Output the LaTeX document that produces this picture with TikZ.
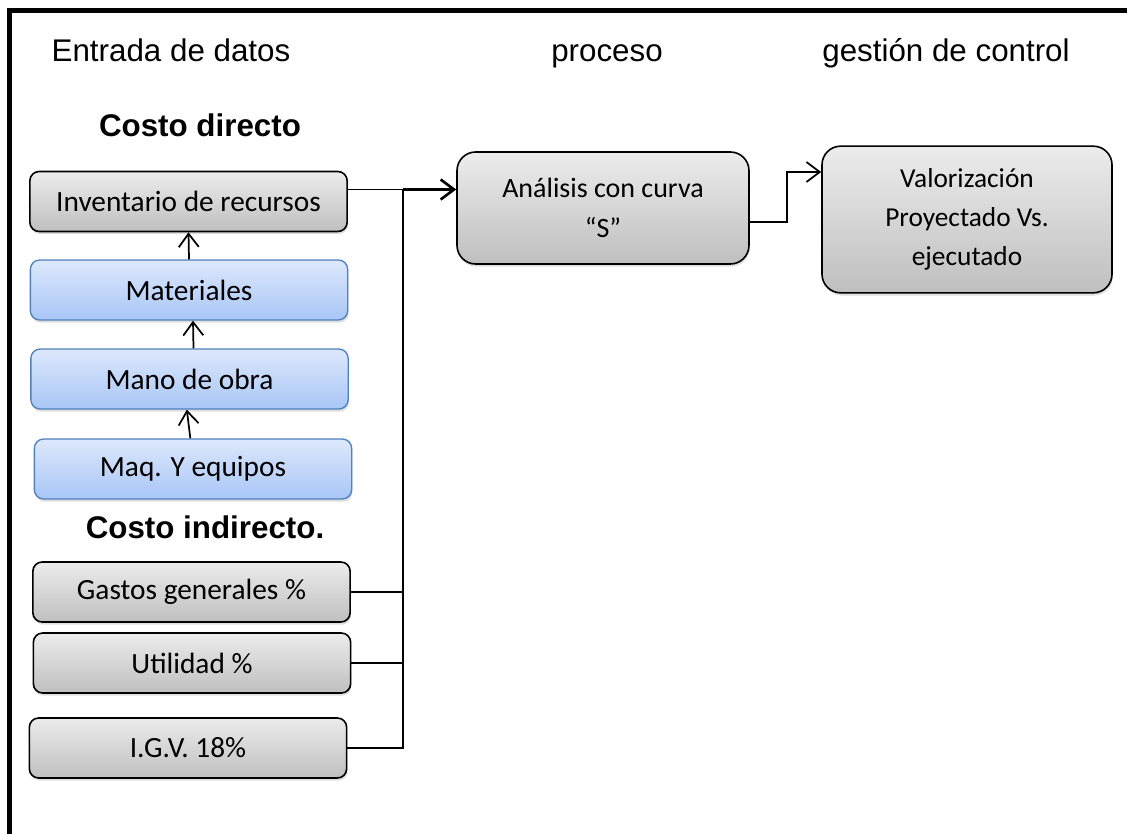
\documentclass[tikz,border=0pt]{standalone}
\usepackage{fontspec}
\setmainfont{Liberation Sans}
\newfontfamily\boxfont{Carlito}
\usetikzlibrary{arrows.meta,shadows}
\definecolor{BoxTop}{HTML}{ECECEC}
\definecolor{BoxBottom}{HTML}{BFBFBF}
\definecolor{BlueTop}{HTML}{DDE8FC}
\definecolor{BlueBottom}{HTML}{A8C6F6}
\definecolor{BlueEdge}{HTML}{4F81BD}
\tikzset{
  costbox/.style={
    rounded corners=7pt, draw=black, line width=1.2pt,
    top color=BoxTop, bottom color=BoxBottom,
    minimum width=238pt, minimum height=45pt, align=center,
    font=\boxfont\fontsize{22}{30}\selectfont,
    drop shadow={shadow xshift=0.6pt, shadow yshift=-2pt, opacity=0.25}
  },
  inputbox/.style={
    costbox, draw=BlueEdge, line width=1pt,
    top color=BlueTop, bottom color=BlueBottom
  },
  stagebox/.style={costbox, rounded corners=14pt, font=\boxfont\fontsize{21}{30}\selectfont},
  heading/.style={anchor=base, font=\fontsize{23.5}{28}\selectfont},
  flow/.style={-{Straight Barb[length=10pt,width=15pt]}, line width=1.3pt},
  link/.style={line width=1.3pt}
}

\begin{document}
\begin{tikzpicture}[x=0.75pt,y=-0.75pt]
    \clip (0,0) rectangle (1127,834);
    \draw[line width=3.8pt] (9.5,850) -- (9.5,10.5) -- (1140,10.5);

    \node[heading] (entrada) at (171,62) {Entrada de datos};
    \node[heading] (proceso) at (607,62) {proceso};
    \node[heading] (gestion) at (946,62) {gestión de control};
    \node[heading,font=\fontsize{23.5}{28}\selectfont\bfseries] (directo) at (200,137) {Costo directo};
    \node[heading,font=\fontsize{23.5}{28}\selectfont\bfseries] (indirecto) at (205,538) {Costo indirecto.};

    \node[costbox] (inventario) at (188.5,201.5) {Inventario de recursos};
    \node[inputbox] (materiales) at (189,290) {Materiales};
    \node[inputbox] (mano) at (189.5,379) {Mano de obra};
    \node[inputbox] (maq) at (193,469) {Maq. Y equipos};

    \node[costbox] (gastos) at (191.5,592) {Gastos generales \%};
    \node[costbox] (utilidad) at (192,663) {Utilidad \%};
    \node[costbox] (igv) at (188,748) {I.G.V. 18\%};

    \node[stagebox,minimum width=219pt,minimum height=84pt] (analisis) at (603,208) {Análisis con curva\\“S”};
    \node[stagebox,minimum width=217.5pt,minimum height=110pt,font=\boxfont\fontsize{20.5}{29}\selectfont] (valor) at (967,219.5) {Valorización\\Proyectado Vs.\\ejecutado};

    \draw[flow] (materiales.north) -- (inventario.south);
    \draw[flow] ([xshift=3pt]mano.north) -- ([xshift=3pt]materiales.south);
    \draw[flow] ([xshift=-2pt]maq.north) -- ([xshift=-2pt]mano.south);

    \coordinate (bus) at (403,189.5);
    \coordinate (turn) at (787,172);
    \draw[link] (inventario.east |- bus) -- (bus);
    \draw[link] (bus) |- (igv.east);
    \draw[link] (gastos.east) -- (gastos.east -| bus);
    \draw[link] (utilidad.east) -- (utilidad.east -| bus);
    \draw[flow,line width=2pt] (bus) -- (bus -| analisis.west);
    \draw[flow] ([yshift=-10.5pt]analisis.east) -| (turn) -- (turn -| valor.west);
\end{tikzpicture}
\end{document}
